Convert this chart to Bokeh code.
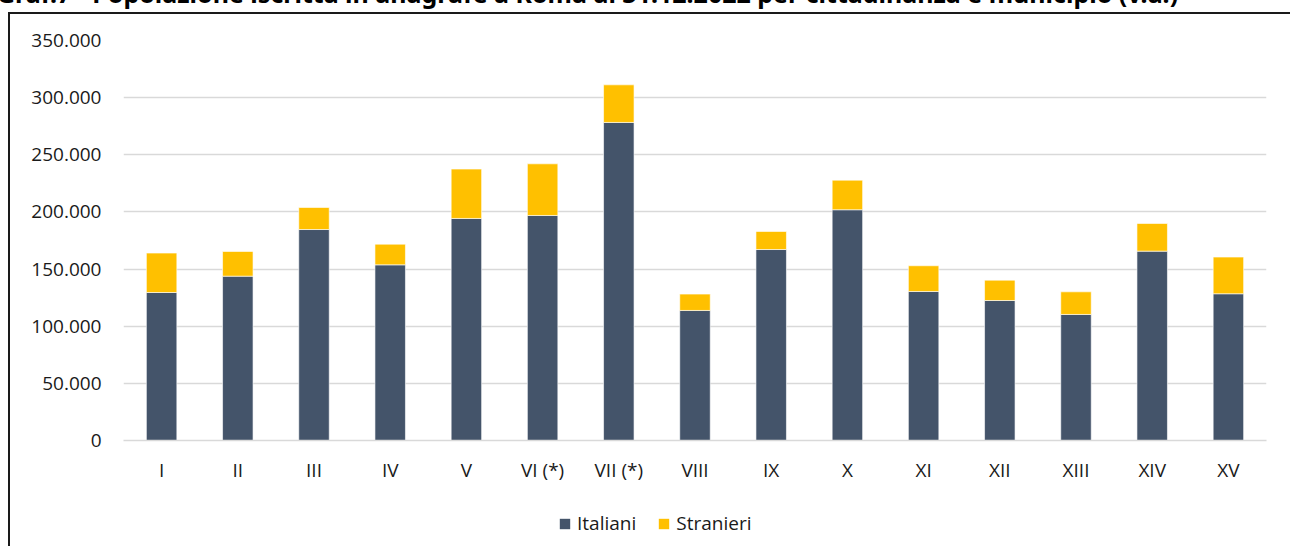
from bokeh.plotting import figure
from bokeh.models import (FactorRange, Range1d, FixedTicker, Legend, LegendItem,
                          Div, ColumnDataSource)
from bokeh.layouts import column
from bokeh.embed import file_html
from bokeh.resources import INLINE

# ---------------- data ----------------
title_text = ("Graf.7 - Popolazione iscritta in anagrafe a Roma al 31.12.2022 "
              "per cittadinanza e municipio (v.a.)")
municipi = ["I", "II", "III", "IV", "V", "VI (*)", "VII (*)", "VIII", "IX", "X",
            "XI", "XII", "XIII", "XIV", "XV"]
italiani = [129500, 143800, 184600, 153700, 194300, 196900, 278300, 113800,
            167100, 201900, 130400, 122500, 110300, 165700, 128400]
stranieri = [34500, 21600, 19300, 18100, 43200, 45200, 32900, 14300,
             15800, 25900, 22500, 17800, 19800, 24200, 32100]
series = ["Italiani", "Stranieri"]
colors = ["#44546A", "#FFC000"]
y_ticks = [0, 50000, 100000, 150000, 200000, 250000, 300000, 350000]
y_tick_labels = ["0", "50.000", "100.000", "150.000", "200.000", "250.000",
                 "300.000", "350.000"]

FONT = "Open Sans"
TXT = "#1a1a1a"
BORDER = "2px solid #1a1a1a"
W = 1282

source = ColumnDataSource(dict(municipio=municipi, Italiani=italiani,
                               Stranieri=stranieri))

# ---------------- main chart ----------------
p = figure(x_range=FactorRange(factors=municipi, range_padding=0),
           y_range=Range1d(0, 350000),
           width=W, height=486,
           min_border_left=113, min_border_right=26,
           min_border_top=26, min_border_bottom=60,
           output_backend="svg", toolbar_location=None)

rs = p.vbar_stack(series, x="municipio", width=0.4, source=source,
                  fill_color=colors, line_color="#ffffff", line_alpha=0.6,
                  line_width=1)

p.yaxis.ticker = FixedTicker(ticks=y_ticks)
p.yaxis.major_label_overrides = {t: l for t, l in zip(y_ticks, y_tick_labels)}
p.yaxis.axis_line_color = None
p.yaxis.major_tick_line_color = None
p.yaxis.minor_tick_line_color = None
p.yaxis.major_tick_out = 0
p.yaxis.major_label_standoff = 22
p.yaxis.major_label_text_font = FONT
p.yaxis.major_label_text_font_size = "19px"
p.yaxis.major_label_text_color = TXT

p.xaxis.axis_line_color = "#d9d9d9"
p.xaxis.axis_line_width = 1.5
p.xaxis.major_tick_line_color = None
p.xaxis.minor_tick_line_color = None
p.xaxis.major_tick_out = 0
p.xaxis.major_label_standoff = 16
p.xaxis.major_label_text_font = FONT
p.xaxis.major_label_text_font_size = "19px"
p.xaxis.major_label_text_color = TXT

p.xgrid.visible = False
p.ygrid.grid_line_color = "#d9d9d9"
p.ygrid.grid_line_width = 1.5
p.outline_line_color = None
p.background_fill_color = "white"
p.border_fill_color = "white"
p.styles = {"border-left": BORDER, "border-top": BORDER, "margin-left": "8px"}

# ---------------- legend strip ----------------
# same series with zero width on an out-of-view range: only their legend shows
pl = figure(x_range=FactorRange(factors=municipi, range_padding=0),
            y_range=Range1d(-2, -1),
            width=W, height=48, x_axis_type=None, y_axis_type=None,
            min_border=0, output_backend="svg", toolbar_location=None)
pl.outline_line_color = None
pl.background_fill_color = "white"
pl.border_fill_color = "white"
pl.xgrid.visible = False
pl.ygrid.visible = False
lr = pl.vbar_stack(series, x="municipio", width=0, source=source,
                   fill_color=colors, line_color=None)
legend = Legend(items=[LegendItem(label=s, renderers=[r]) for s, r in zip(series, lr)],
                orientation="horizontal", location=(435, 10),
                padding=0, margin=0, spacing=21,
                glyph_width=13, glyph_height=13, label_height=13,
                label_standoff=6,
                label_text_font=FONT, label_text_font_size="19px",
                label_text_color=TXT,
                border_line_color=None, background_fill_alpha=0)
pl.add_layout(legend)
pl.styles = {"border-left": BORDER, "margin-left": "8px"}

# ---------------- title ----------------
title = Div(text=title_text, width=1290, height=27,
            styles={"margin-top": "-20px", "text-indent": "-8px",
                    "font-family": "Noto Sans", "font-weight": "bold",
                    "font-size": "25px", "line-height": "27px",
                    "white-space": "nowrap", "color": "#000000"})

layout = column(title, p, pl, spacing=0)

open("out.html", "w").write(file_html(layout, INLINE))
